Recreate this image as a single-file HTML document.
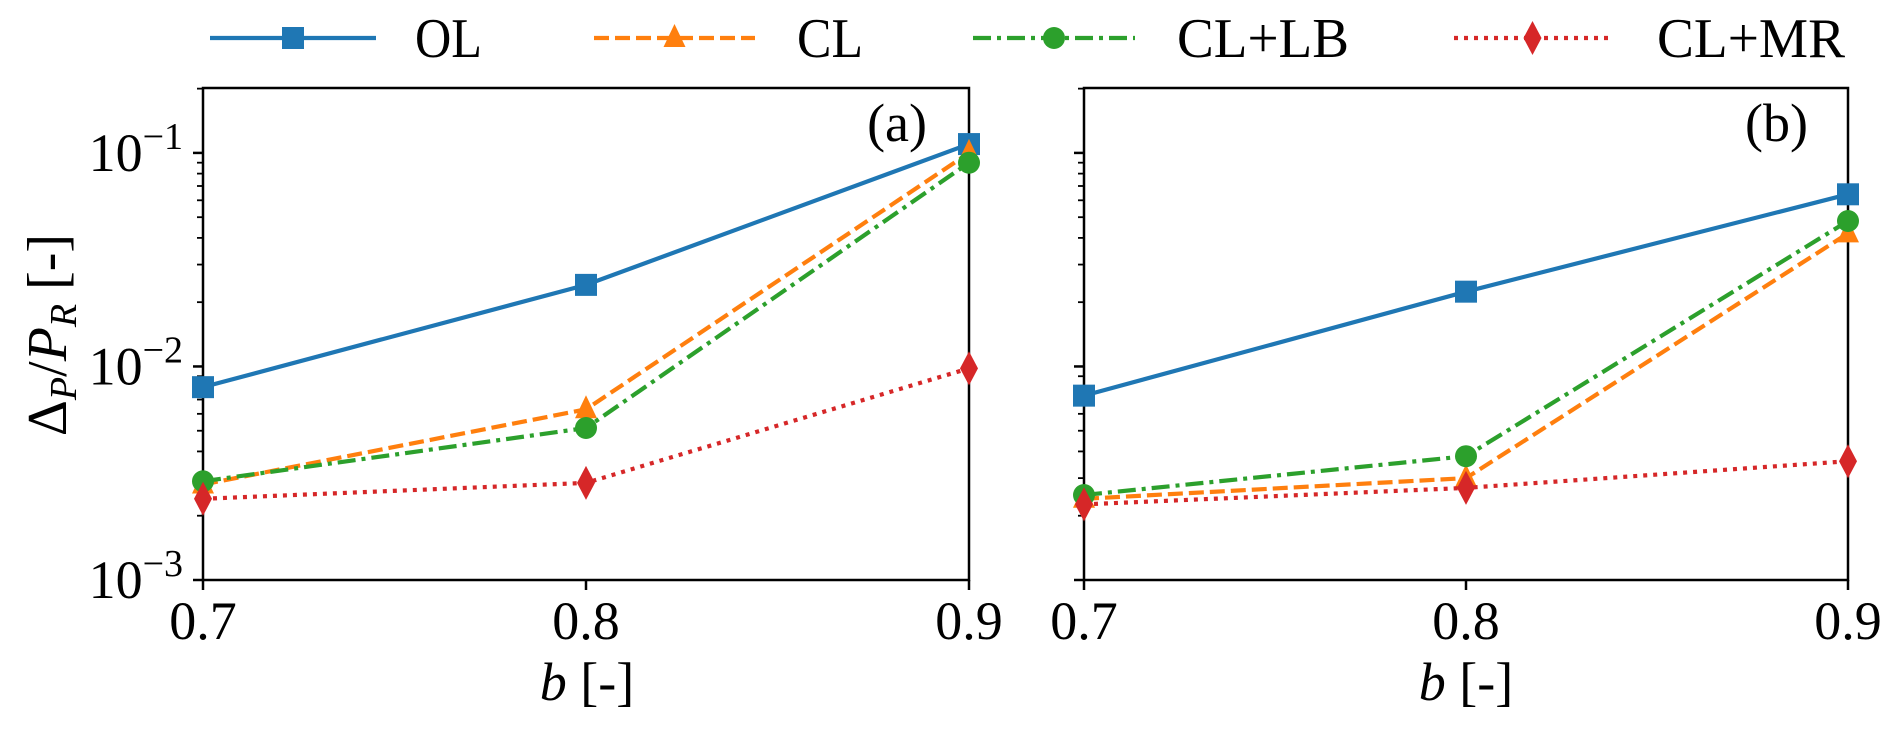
<!DOCTYPE html>
<html><head><meta charset="utf-8">
<style>
html,body{margin:0;padding:0;background:#fff;}
svg{display:block;}
text{font-family:"Liberation Serif",serif;fill:#000;}
</style></head>
<body>
<svg id="chart" width="1892" height="730" viewBox="0 0 1892 730" xmlns="http://www.w3.org/2000/svg">
  <g id="legend"></g>
  <g id="panelA"></g>
  <g id="panelB"></g>
  <text transform="translate(66,335) rotate(-90)" text-anchor="middle" font-size="56" font-style="italic"><tspan font-style="normal">Δ</tspan><tspan font-size="38" dy="10">P</tspan><tspan dy="-10" font-style="normal">/</tspan>P<tspan font-size="38" dy="10">R</tspan><tspan dy="-10" font-style="normal"> [-]</tspan></text>
  <text x="587" y="700" text-anchor="middle" font-size="54"><tspan font-style="italic">b</tspan> [-]</text>
  <text x="1466" y="700" text-anchor="middle" font-size="54"><tspan font-style="italic">b</tspan> [-]</text>
</svg>
<script>
const xCategories = [0.7, 0.8, 0.9];
const yTickExponents = [-3, -2, -1];
const xTickLabels = ["0.7", "0.8", "0.9"];
const seriesNames = ["OL", "CL", "CL+LB", "CL+MR"];
const panelA_OL = [0.0080, 0.0241, 0.110];
const panelA_CL = [0.0028, 0.0063, 0.100];
const panelA_LB = [0.0029, 0.00515, 0.090];
const panelA_MR = [0.0024, 0.00285, 0.0098];
const panelB_OL = [0.0073, 0.0224, 0.064];
const panelB_CL = [0.0024, 0.0030, 0.042];
const panelB_LB = [0.0025, 0.0038, 0.048];
const panelB_MR = [0.00226, 0.0027, 0.0036];

const NS = "http://www.w3.org/2000/svg";
const styles = [
  {color:"#1f77b4", dash:"", marker:"square"},
  {color:"#ff7f0e", dash:"15 6", marker:"triangle"},
  {color:"#2ca02c", dash:"18 6 4 6", marker:"circle"},
  {color:"#d62728", dash:"4 6", marker:"diamond"}
];
function mk(tag, attrs, parent){
  const e = document.createElementNS(NS, tag);
  for (const k in attrs) e.setAttribute(k, attrs[k]);
  parent.appendChild(e);
  return e;
}
function marker(kind, x, y, color, parent){
  let e;
  if (kind === "square") e = mk("rect", {x:x-11, y:y-11, width:22, height:22, fill:color}, parent);
  else if (kind === "triangle") e = mk("polygon", {points:`${x},${y-14} ${x+11},${y+9} ${x-11},${y+9}`, fill:color}, parent);
  else if (kind === "circle") e = mk("circle", {cx:x, cy:y, r:11, fill:color}, parent);
  else e = mk("polygon", {points:`${x},${y-17} ${x+9},${y} ${x},${y+17} ${x-9},${y}`, fill:color}, parent);
  return e;
}
const yTop = 88, yBot = 580, logMin = -3, logMax = -0.696;
function yScale(v){ return yBot - (Math.log10(v) - logMin) / (logMax - logMin) * (yBot - yTop); }

function drawPanel(g, x0, x1, data, showYLabels, tag){
  const xScale = v => x0 + (v - xCategories[0]) / (xCategories[2] - xCategories[0]) * (x1 - x0);
  const frame = mk("rect", {x:x0, y:yTop, width:x1-x0, height:yBot-yTop, fill:"none", stroke:"#000", "stroke-width":2.5}, g);
  
  
  yTickExponents.forEach(ex => {
    const y = yScale(Math.pow(10, ex));
    const t = mk("line", {x1:x0-10, x2:x0, y1:y, y2:y, stroke:"#000", "stroke-width":2.5}, g);
    
    
    if (showYLabels) {
      const tx = mk("text", {x:x0-20, y:y+18, "text-anchor":"end", "font-size":54}, g);
      
      
      const a = document.createElementNS(NS, "tspan"); a.textContent = "10"; tx.appendChild(a);
      const b = document.createElementNS(NS, "tspan"); b.setAttribute("font-size", "38"); b.setAttribute("dy", "-22"); b.textContent = "−" + (-ex); tx.appendChild(b);
    }
    for (let m = 2; m <= 9; m++) {
      const yy = yScale(m * Math.pow(10, ex));
      if (yy < yTop) continue;
      const mt = mk("line", {x1:x0-6, x2:x0, y1:yy, y2:yy, stroke:"#000", "stroke-width":1.8}, g);
      
      
    }
  });
  xCategories.forEach((c, i) => {
    const x = xScale(c);
    const t = mk("line", {x1:x, x2:x, y1:yBot, y2:yBot+10, stroke:"#000", "stroke-width":2.5}, g);
    
    
    const tx = mk("text", {x:x, y:yBot+59, "text-anchor":"middle", "font-size":54}, g);
    
    
    tx.textContent = xTickLabels[i];
  });
  data.forEach((vals, si) => {
    const st = styles[si];
    const pts = vals.map((v, i) => `${xScale(xCategories[i])},${yScale(v)}`).join(" ");
    const pl = mk("polyline", {points:pts, fill:"none", stroke:st.color, "stroke-width":4.2, "stroke-dasharray":st.dash}, g);
    
    
    vals.forEach((v, i) => {
      const m = marker(st.marker, xScale(xCategories[i]), yScale(v), st.color, g);
      
      
    });
  });
}
drawPanel(document.getElementById("panelA"), 203, 969, [panelA_OL, panelA_CL, panelA_LB, panelA_MR], true, "a");
drawPanel(document.getElementById("panelB"), 1084, 1848, [panelB_OL, panelB_CL, panelB_LB, panelB_MR], false, "b");

const la = mk("text", {x:927, y:141, "text-anchor":"end", "font-size":54}, document.getElementById("panelA"));


la.textContent = "(a)";
const lb = mk("text", {x:1808, y:141, "text-anchor":"end", "font-size":54}, document.getElementById("panelB"));


lb.textContent = "(b)";

const lg = document.getElementById("legend");
const legLine = [[210,376],[594,755],[973,1135],[1454,1611]];
const legText = [[415,67],[797,66],[1177,172],[1657,188]];
seriesNames.forEach((n, i) => {
  const st = styles[i], ly = 38;
  const ln = mk("line", {x1:legLine[i][0], x2:legLine[i][1], y1:ly, y2:ly, stroke:st.color, "stroke-width":4.2, "stroke-dasharray":st.dash}, lg);
  
  
  const m = marker(st.marker, (legLine[i][0] + legLine[i][1]) / 2, ly, st.color, lg);
  
  
  const t = mk("text", {x:legText[i][0], y:57, "font-size":56, textLength:legText[i][1], lengthAdjust:"spacingAndGlyphs"}, lg);
  
  
  t.textContent = n;
});
</script>
</body></html>
